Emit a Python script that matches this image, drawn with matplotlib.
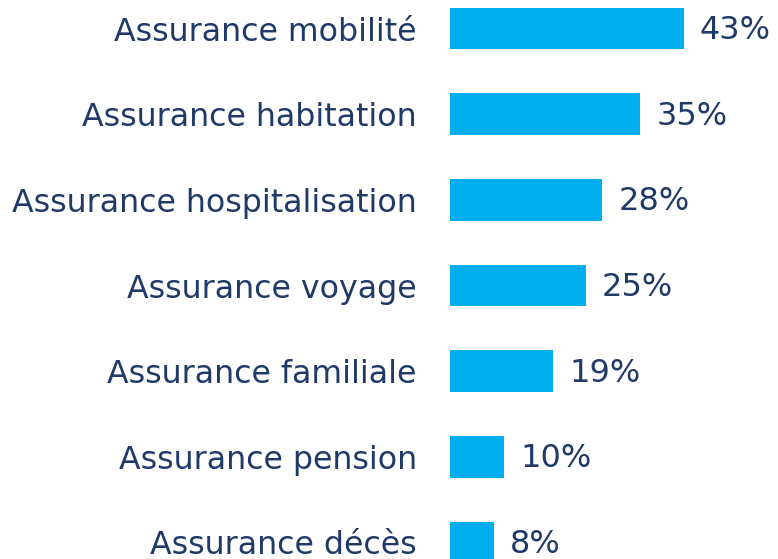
import matplotlib.pyplot as plt

# donnees
categories = ['Assurance mobilité', 'Assurance habitation', 'Assurance hospitalisation',
              'Assurance voyage', 'Assurance familiale', 'Assurance pension', 'Assurance décès']
values = [43, 35, 28, 25, 19, 10, 8]

bar_color = '#00AEEF'
text_color = '#1F3A68'

plt.rcParams['font.family'] = ['DejaVu Sans']

fig = plt.figure(figsize=(7.78, 5.59), dpi=100)
ax = fig.add_axes([450 / 778, 0, 1 - 450 / 778, 1])

pos = list(range(len(categories)))
ax.barh(pos, values, height=0.487, color=bar_color)

# echelle : 0 a 450px, 43% a 684px
ax.set_xlim(0, 328 / (234 / 43))
ax.set_ylim(6 + (559 - 542.5) / 85.6, -28.5 / 85.6)

ax.set_yticks(pos)
ax.set_yticklabels(categories, fontsize=22.8, color=text_color)
ax.tick_params(axis='y', length=0, pad=24)
ax.set_xticks([])
for s in ax.spines.values():
    s.set_visible(False)

# etiquettes des valeurs
for p, v in zip(pos, values):
    ax.annotate(f'{v}%', (v, p), xytext=(11.5, -1.5), textcoords='offset points',
                va='center', ha='left', fontsize=23, color=text_color)

fig.savefig('out.png', dpi=100)
